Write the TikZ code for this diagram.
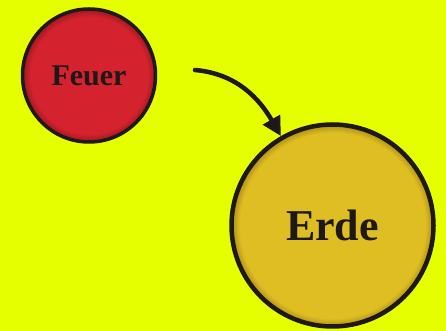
\documentclass[tikz,border=0pt]{standalone}
\usepackage{fontspec}
\setmainfont{Liberation Serif}
\usepackage{tikz}
\usetikzlibrary{arrows.meta}

\definecolor{hgrund}{RGB}{229,255,0}
\definecolor{feuerrot}{RGB}{212,35,46}
\definecolor{feuerrand}{RGB}{160,22,32}
\definecolor{erdgold}{RGB}{222,190,34}
\definecolor{erdrand}{RGB}{170,140,20}
\definecolor{tinte}{RGB}{30,24,24}

\pgfdeclareradialshading{feuerglut}{\pgfpoint{0bp}{0bp}}{color(0bp)=(feuerrot); color(22bp)=(feuerrot); color(25bp)=(feuerrand); color(50bp)=(feuerrand)}
\pgfdeclareradialshading{erdglut}{\pgfpoint{0bp}{0bp}}{color(0bp)=(erdgold); color(23bp)=(erdgold); color(25bp)=(erdrand); color(50bp)=(erdrand)}

\tikzset{
  element/.style={circle, draw=tinte, text=tinte, font=\bfseries, inner sep=0pt},
  pfeil/.style={-{Triangle[length=19pt, width=19pt]}, line width=4.5pt, line cap=round, tinte}
}

\begin{document}
\begin{tikzpicture}[x=1pt, y=1pt]
\fill[hgrund] (0,0) rectangle (446,331);
\node[element, minimum size=133pt, line width=3.5pt, shading=feuerglut] (feuer) at (89,255.5) {\fontsize{30}{36}\selectfont Feuer};
\node[element, minimum size=202pt, line width=4.5pt, shading=erdglut] (erde) at (332.5,105.5) {\fontsize{44}{52}\selectfont Erde};
\coordinate (start) at (195,261);
\draw[pfeil] (start) to[out=-5, in=120] (erde);
\end{tikzpicture}
\end{document}
